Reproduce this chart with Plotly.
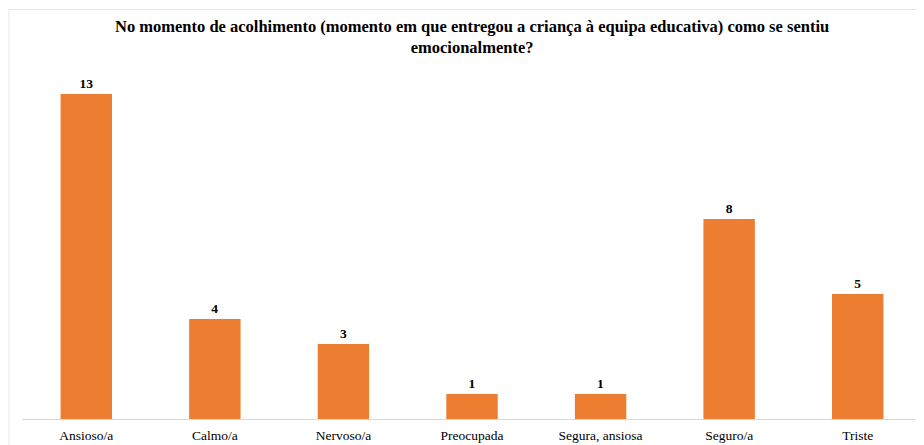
import plotly.graph_objects as go

categories = ["Ansioso/a", "Calmo/a", "Nervoso/a", "Preocupada", "Segura, ansiosa", "Seguro/a", "Triste"]
values = [13, 4, 3, 1, 1, 8, 5]
title_text = "No momento de acolhimento (momento em que entregou a criança à equipa educativa) como se sentiu<br>emocionalmente?"

serif = "Liberation Serif, Times New Roman, serif"

fig = go.Figure(go.Bar(
    x=categories,
    y=values,
    marker=dict(color="#ED7D31", line=dict(width=0)),
    text=[f"<b>{v}</b>" for v in values],
    textposition="outside",
    textfont=dict(family=serif, size=13.5, color="#000000"),
    cliponaxis=False,
))

# page body adds an 8px offset, so the figure is sized to fill the rest
fig.update_layout(
    width=916, height=437,
    margin=dict(l=14, r=2, t=61, b=26),
    paper_bgcolor="white",
    plot_bgcolor="white",
    bargap=0.6,
    showlegend=False,
    xaxis=dict(
        showline=True, linecolor="#D9D9D9", linewidth=1,
        ticks="", showgrid=False,
        ticklabelstandoff=4,
        tickfont=dict(family=serif, size=13.5, color="#000000"),
    ),
    yaxis=dict(
        range=[0, 14], visible=False, showgrid=False, zeroline=False,
    ),
    annotations=[dict(
        text=f"<b>{title_text}</b>",
        xref="paper", yref="paper", x=0.5, y=1.0914,
        xanchor="center", yanchor="middle", showarrow=False,
        font=dict(family=serif, size=16.5, color="#000000"),
    )],
    shapes=[dict(
        type="rect", xref="paper", yref="paper",
        x0=-0.0145, x1=1.05, y0=-0.3, y1=1.17,
        line=dict(color="#E6E6E6", width=1), fillcolor="rgba(0,0,0,0)",
        layer="below",
    )],
)

fig.write_html("out.html")
